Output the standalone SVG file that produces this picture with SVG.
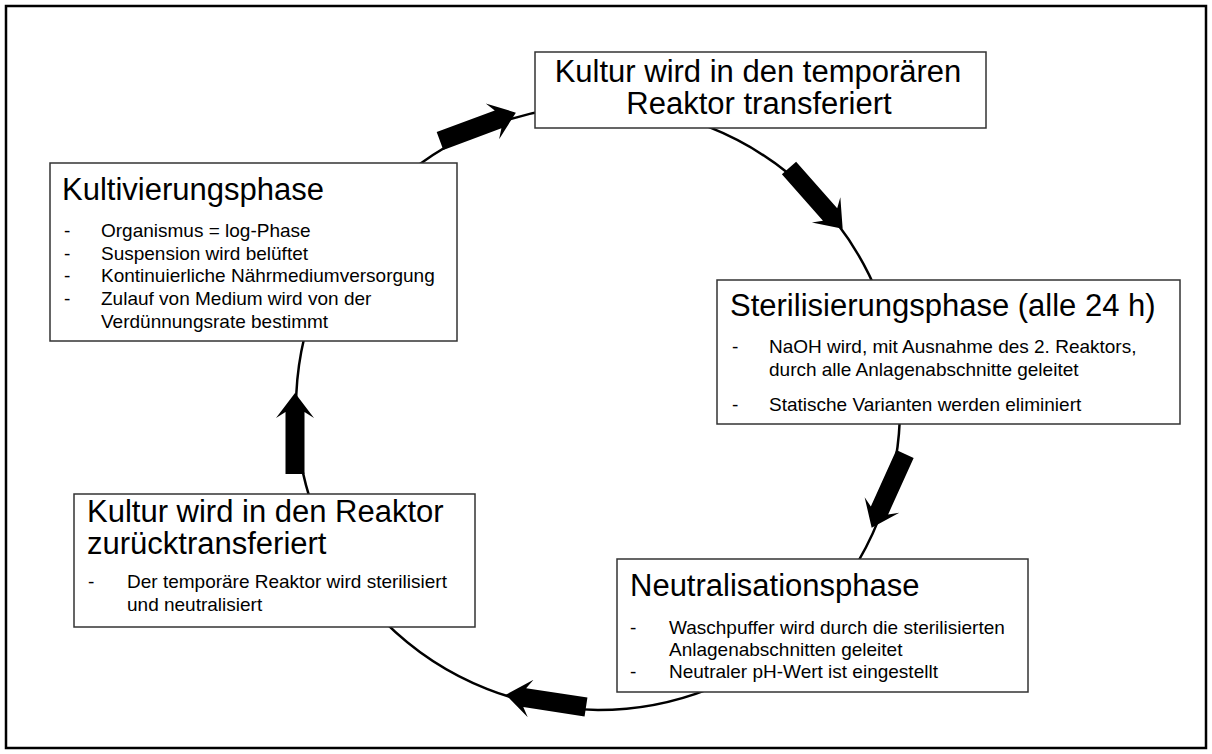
<svg xmlns="http://www.w3.org/2000/svg" xmlns:xlink="http://www.w3.org/1999/xlink" width="1212" height="754" viewBox="0 0 1212 754">
<style>
.box{fill:#fff;stroke:#333;stroke-width:1.5}
.t{font-family:"Liberation Sans",Arial,sans-serif;font-size:31px;fill:#000}
.b{font-family:"Liberation Sans",Arial,sans-serif;font-size:19px;fill:#000}
.ring{fill:none;stroke:#000;stroke-width:2.5}
.arr{fill:#000}
</style>
<defs>
<path id="blk" d="M0,-9.5 L62,-9.5 L56,-19 L81,0 L56,19 L62,9.5 L0,9.5 Z"/>
</defs>
<rect x="6" y="6" width="1200" height="742" fill="#fff" stroke="#000" stroke-width="2.5"/>
<g id="connectors">
<circle class="ring" cx="598" cy="408" r="302"/>
<use class="arr" xlink:href="#blk" transform="translate(440,141) rotate(-20.5)"/>
<use class="arr" xlink:href="#blk" transform="translate(789,168) rotate(48.5)"/>
<use class="arr" xlink:href="#blk" transform="translate(905,454) rotate(114.3)"/>
<use class="arr" xlink:href="#blk" transform="translate(586,707) rotate(188.7)"/>
<use class="arr" xlink:href="#blk" transform="translate(295,474) rotate(-90)"/>
</g>
<g id="node-transfer">
<rect class="box" x="535" y="52" width="451" height="76"/>
<text class="t" x="758" y="82" text-anchor="middle">Kultur wird in den temporären</text>
<text class="t" x="759" y="114" text-anchor="middle">Reaktor transferiert</text>
</g>
<g id="node-kultivierung">
<rect class="box" x="50" y="163" width="407" height="178"/>
<text class="t" x="62" y="200">Kultivierungsphase</text>
<text class="b" x="64" y="237">-</text><text class="b" x="101" y="237">Organismus = log-Phase</text>
<text class="b" x="64" y="259.5">-</text><text class="b" x="101" y="259.5">Suspension wird belüftet</text>
<text class="b" x="64" y="282">-</text><text class="b" x="101" y="282">Kontinuierliche Nährmediumversorgung</text>
<text class="b" x="64" y="305">-</text><text class="b" x="101" y="305">Zulauf von Medium wird von der</text>
<text class="b" x="101" y="328">Verdünnungsrate bestimmt</text>
</g>
<g id="node-sterilisierung">
<rect class="box" x="717" y="280" width="463" height="144"/>
<text class="t" x="730" y="316">Sterilisierungsphase (alle 24 h)</text>
<text class="b" x="732" y="353">-</text><text class="b" x="769" y="353">NaOH wird, mit Ausnahme des 2. Reaktors,</text>
<text class="b" x="769" y="376">durch alle Anlagenabschnitte geleitet</text>
<text class="b" x="732" y="411">-</text><text class="b" x="769" y="411">Statische Varianten werden eliminiert</text>
</g>
<g id="node-neutralisation">
<rect class="box" x="617" y="559" width="411" height="133"/>
<text class="t" x="630" y="596">Neutralisationsphase</text>
<text class="b" x="630" y="634">-</text><text class="b" x="669" y="634">Waschpuffer wird durch die sterilisierten</text>
<text class="b" x="669" y="656">Anlagenabschnitten geleitet</text>
<text class="b" x="630" y="678">-</text><text class="b" x="669" y="678">Neutraler pH-Wert ist eingestellt</text>
</g>
<g id="node-zurueck">
<rect class="box" x="74" y="494" width="401" height="133"/>
<text class="t" x="87" y="522">Kultur wird in den Reaktor</text>
<text class="t" x="87" y="554">zurücktransferiert</text>
<text class="b" x="88" y="588">-</text><text class="b" x="127" y="588">Der temporäre Reaktor wird sterilisiert</text>
<text class="b" x="127" y="611">und neutralisiert</text>
</g>
</svg>
